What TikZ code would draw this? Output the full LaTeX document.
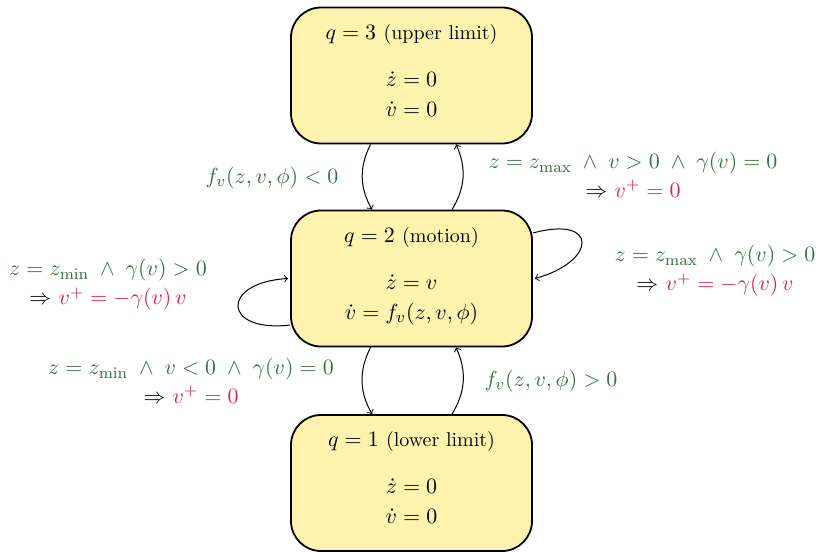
\documentclass[tikz,border=0pt]{standalone}
\usepackage{amsmath}
\usepackage{xcolor}
\usepackage{tikz}
\definecolor{guardgreen}{RGB}{58,108,70}
\definecolor{resetred}{RGB}{214,38,78}
\definecolor{modefill}{RGB}{253,243,174}
\tikzset{
  mode/.style={draw=black, fill=modefill, line width=0.9pt, rounded corners=15pt,
    minimum width=120.5pt, minimum height=68pt, align=center, text depth=5.4pt,
    font=\fontsize{11.2}{13.5}\selectfont},
  jump/.style={->, line width=0.5pt},
  guard/.style={text=guardgreen, align=center, inner sep=1pt,
    font=\fontsize{11.2}{13.5}\selectfont},
}
\newcommand{\rst}[1]{\textcolor{resetred}{#1}}
\newcommand{\mname}[1]{{\fontsize{10}{12}\selectfont #1}}

\begin{document}
\begin{tikzpicture}[x=0.5pt, y=-0.5pt]
\useasboundingbox (0,0) rectangle (822,551);
\node[mode] (q3) at (411.5,75.5) {$q=3$ \mname{(upper limit)}\\[10pt] $\dot z=0$\\[1.5pt] $\dot v=0$};
\node[mode] (q2) at (411.5,278.5) {$q=2$ \mname{(motion)}\\[10pt] $\dot z=v$\\[1.5pt] $\dot v=f_v(z,v,\phi)$};
\node[mode] (q1) at (411.5,483) {$q=1$ \mname{(lower limit)}\\[10pt] $\dot z=0$\\[1.5pt] $\dot v=0$};
% up and down between the modes
\draw[jump] ([xshift=-20.5pt]q3.south) to[bend right=28] ([xshift=-19.75pt]q2.north);
\draw[jump] ([xshift=20.25pt]q2.north) to[bend right=28] ([xshift=22.25pt]q3.south);
\draw[jump] ([xshift=-20.5pt]q2.south) to[bend right=28] ([xshift=-19.75pt]q1.north);
\draw[jump] ([xshift=20.25pt]q1.north) to[bend right=28] ([xshift=22.25pt]q2.south);
% bounces
\draw[jump] ([yshift=22.75pt]q2.east) .. controls +(33pt,9pt) and +(31pt,8.5pt) .. ([xshift=1pt]q2.east);
\draw[jump] ([yshift=-23.25pt]q2.west) .. controls +(-34pt,-4pt) and +(-34pt,-2pt) .. ([xshift=-1pt]q2.west);
% guards and resets
\node[guard] (g32) at (272,178) {$f_v(z,v,\phi)<0$};
\node[guard] (g23) at (633,175) {$z=z_{\max}\;\wedge\;v>0\;\wedge\;\gamma(v)=0$\\[1pt] \textcolor{black}{$\Rightarrow$} \rst{$v^+=0$}};
\node[guard] (g2l) at (108,285) {$z=z_{\min}\;\wedge\;\gamma(v)>0$\\[1pt] \textcolor{black}{$\Rightarrow$} \rst{$v^+=-\gamma(v)\,v$}};
\node[guard] (g2r) at (715,271) {$z=z_{\max}\;\wedge\;\gamma(v)>0$\\[1pt] \textcolor{black}{$\Rightarrow$} \rst{$v^+=-\gamma(v)\,v$}};
\node[guard] (g21) at (191,381) {$z=z_{\min}\;\wedge\;v<0\;\wedge\;\gamma(v)=0$\\[1pt] \textcolor{black}{$\Rightarrow$} \rst{$v^+=0$}};
\node[guard] (g12) at (551,381) {$f_v(z,v,\phi)>0$};
\end{tikzpicture}
\end{document}
